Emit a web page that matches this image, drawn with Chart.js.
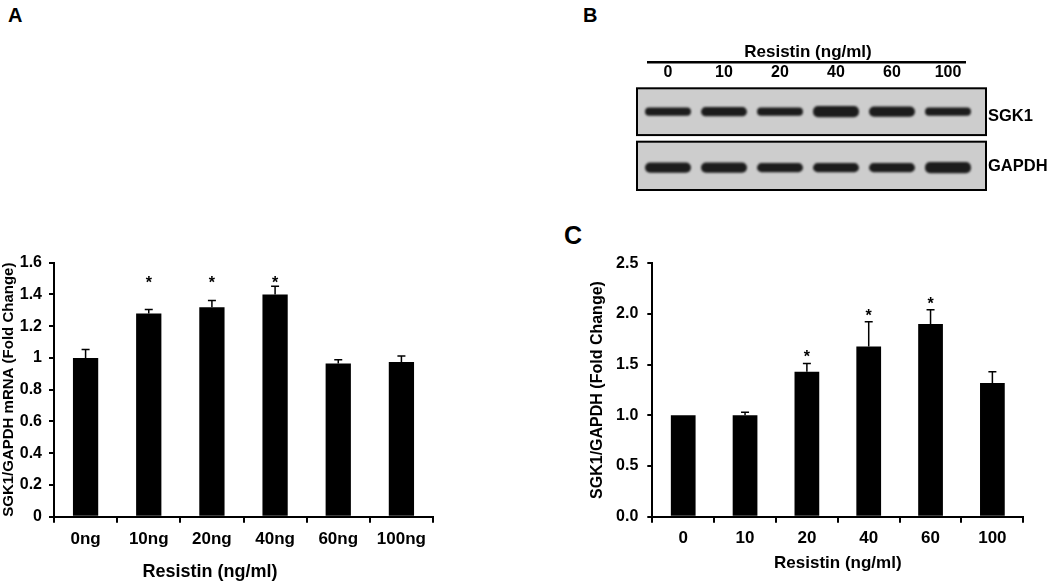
<!DOCTYPE html>
<html>
<head>
<meta charset="utf-8">
<script src="https://cdn.jsdelivr.net/npm/chart.js@4/dist/chart.umd.min.js"></script>
<style>
  body { margin: 0; background: #fff; width: 1050px; height: 582px; position: relative; overflow: hidden;
         font-family: "Liberation Sans", Arial, sans-serif; color: #000; }
  .box { position: absolute; }
  .txt { position: absolute; font-weight: bold; line-height: 1; white-space: nowrap; }
</style>
</head>
<body>
<div class="txt" style="left:8px;top:5px;font-size:20px">A</div>
<div class="txt" style="left:583px;top:5px;font-size:20px">B</div>
<div class="txt" style="left:564px;top:223px;font-size:25px">C</div>

<div class="box" style="left:0;top:230px;width:470px;height:352px"><canvas id="chartA"></canvas></div>
<div class="txt" style="left:110px;top:562px;width:200px;text-align:center;font-size:18px">Resistin (ng/ml)</div>

<div class="box" style="left:600px;top:0;width:450px;height:200px"><canvas id="blot"></canvas></div>

<div class="box" style="left:560px;top:230px;width:490px;height:352px"><canvas id="chartC"></canvas></div>

<script>
// panel A - qPCR
var catsA = ['0ng', '10ng', '20ng', '40ng', '60ng', '100ng'];
var meanA = [1.0, 1.28, 1.32, 1.40, 0.965, 0.975];
var errA  = [0.054, 0.025, 0.042, 0.051, 0.023, 0.038];
var sigA  = [false, true, true, true, false, false];

// panel B - blot, band thickness per lane
var lanes = ['0', '10', '20', '40', '60', '100'];
var sgk1Band  = [8, 9, 8, 11, 10, 8];
var gapdhBand = [10, 10, 9, 9, 9, 11];

// panel C - densitometry
var catsC = ['0', '10', '20', '40', '60', '100'];
var meanC = [1.0, 1.0, 1.43, 1.68, 1.90, 1.32];
var errC  = [0, 0.03, 0.082, 0.243, 0.142, 0.109];
var sigC  = [false, false, true, true, true, false];

var FONT = '"Liberation Sans", Arial, sans-serif';
Chart.defaults.font.family = FONT;
Chart.defaults.color = '#000';
Chart.defaults.animation = false;

// error bars (upper only) + significance stars
var errorBars = {
  id: 'errorBars',
  afterDatasetsDraw: function (chart, args, opts) {
    var ctx = chart.ctx, y = chart.scales.y;
    var meta = chart.getDatasetMeta(0);
    var vals = chart.data.datasets[0].data;
    ctx.save();
    ctx.strokeStyle = '#000';
    ctx.lineWidth = 1.5;
    ctx.fillStyle = '#000';
    ctx.font = 'bold 16px ' + FONT;
    ctx.textAlign = 'center';
    ctx.textBaseline = 'alphabetic';
    for (var i = 0; i < vals.length; i++) {
      var bar = meta.data[i];
      var top = y.getPixelForValue(vals[i] + opts.err[i]);
      if (opts.err[i] > 0) {
        ctx.beginPath();
        ctx.moveTo(bar.x, bar.y);
        ctx.lineTo(bar.x, top);
        ctx.moveTo(bar.x - 4, top);
        ctx.lineTo(bar.x + 4, top);
        ctx.stroke();
      }
      if (opts.sig[i]) {
        var sy = opts.starLevel != null ? y.getPixelForValue(opts.starLevel) : top - opts.starGap;
        ctx.fillText('*', bar.x, sy + 9);
      }
    }
    ctx.restore();
  }
};

function bold(size, lh) {
  return { family: FONT, size: size, weight: 'bold', lineHeight: lh || 1.2 };
}

function barChart(id, cats, vals, cfg) {
  return new Chart(document.getElementById(id), {
    type: 'bar',
    data: {
      labels: cats,
      datasets: [{
        data: vals,
        backgroundColor: '#000',
        borderColor: '#333',
        borderWidth: 0,
        barPercentage: 0.4,
        categoryPercentage: 1
      }]
    },
    options: {
      responsive: true,
      maintainAspectRatio: false,
      layout: { padding: cfg.padding },
      plugins: {
        legend: { display: false },
        tooltip: { enabled: false },
        errorBars: cfg.bars
      },
      scales: {
        x: {
          grid: { offset: true, drawOnChartArea: false, tickLength: 6, color: '#000', lineWidth: 2 },
          border: { color: '#000', width: 2 },
          ticks: { color: '#000', font: bold(cfg.xFont), padding: cfg.xPad },
          title: cfg.xTitle,
          afterFit: function (s) { s.height = cfg.xHeight; }
        },
        y: {
          min: 0, max: cfg.yMax,
          grid: { drawOnChartArea: false, tickLength: 5, color: '#000', lineWidth: 2 },
          border: { color: '#000', width: 2 },
          ticks: { stepSize: cfg.step, color: '#000', font: bold(cfg.yFont), padding: cfg.yPad, callback: cfg.fmt },
          title: cfg.yTitle,
          afterFit: function (s) { s.width = cfg.yWidth; }
        }
      }
    },
    plugins: [errorBars]
  });
}

barChart('chartA', catsA, meanA, {
  padding: { left: 0, right: 37, top: 32.7, bottom: 0 },
  bars: { err: errA, sig: sigA, starLevel: 1.5 },
  xFont: 17, xPad: 6, xHeight: 65.3,
  xTitle: { display: false },
  yMax: 1.6, step: 0.2, yFont: 16, yPad: 7, yWidth: 54,
  fmt: function (v) { return String(Math.round(v * 10) / 10); },
  yTitle: { display: true, text: 'SGK1/GAPDH mRNA (Fold Change)', color: '#000', font: bold(15), padding: { top: 0, bottom: 0 } }
});

barChart('chartC', catsC, meanC, {
  padding: { left: 0, right: 26.7, top: 33.3, bottom: 0 },
  bars: { err: errC, sig: sigC, starGap: 10 },
  xFont: 17, xPad: 5, xHeight: 65.3,
  xTitle: { display: true, text: 'Resistin (ng/ml)', color: '#000', font: bold(17, 1), padding: { top: 0, bottom: 10.5 } },
  yMax: 2.5, step: 0.5, yFont: 16, yPad: 9, yWidth: 92.3,
  fmt: function (v) { return v.toFixed(1); },
  yTitle: { display: true, text: 'SGK1/GAPDH (Fold Change)', color: '#000', font: bold(16), padding: { top: 28.4, bottom: 0 } }
});

// blot: two framed strips, bands as floating bars on a hidden 0-100 scale
var rows = [
  { name: 'SGK1',  top: 0,    bottom: 46,  mid: 23, label: 28 },
  { name: 'GAPDH', top: 52.5, bottom: 100, mid: 78, label: 77 }
];

var blotFrame = {
  id: 'blotFrame',
  beforeDatasetsDraw: function (chart) {
    var ctx = chart.ctx, a = chart.chartArea, y = chart.scales.y;
    ctx.save();
    rows.forEach(function (r) {
      var t = y.getPixelForValue(r.top), b = y.getPixelForValue(r.bottom);
      ctx.fillStyle = '#cdcdcd';
      ctx.fillRect(a.left - 3, t, a.width + 13, b - t);
      ctx.strokeStyle = '#000';
      ctx.lineWidth = 2;
      ctx.strokeRect(a.left - 3, t, a.width + 13, b - t);
    });
    ctx.restore();
    ctx.filter = 'blur(1.2px)';
  },
  afterDatasetsDraw: function (chart) {
    var ctx = chart.ctx, a = chart.chartArea, y = chart.scales.y, x = chart.scales.x;
    ctx.filter = 'none';
    ctx.save();
    ctx.fillStyle = '#000';
    ctx.font = 'bold 16.5px ' + FONT;
    ctx.textAlign = 'left';
    ctx.textBaseline = 'middle';
    rows.forEach(function (r) {
      ctx.fillText(r.name, a.right + 12, y.getPixelForValue(r.label));
    });
    // line under "Resistin (ng/ml)"
    ctx.strokeStyle = '#000';
    ctx.lineWidth = 2.5;
    ctx.beginPath();
    ctx.moveTo(a.left + 7, x.top + 62.3);
    ctx.lineTo(a.right - 10, x.top + 62.3);
    ctx.stroke();
    ctx.restore();
  }
};

function bandData(th, r) {
  return th.map(function (t) { return [r.mid - t / 2, r.mid + t / 2]; });
}

new Chart(document.getElementById('blot'), {
  type: 'bar',
  data: {
    labels: lanes,
    datasets: [
      { data: bandData(sgk1Band, rows[0]), backgroundColor: '#1c1c1c', borderRadius: 5, borderSkipped: false,
        barPercentage: 0.82, categoryPercentage: 1, grouped: false },
      { data: bandData(gapdhBand, rows[1]), backgroundColor: '#1c1c1c', borderRadius: 5, borderSkipped: false,
        barPercentage: 0.82, categoryPercentage: 1, grouped: false }
    ]
  },
  options: {
    responsive: true,
    maintainAspectRatio: false,
    layout: { padding: { left: 40, right: 74, top: 0, bottom: 10 } },
    plugins: { legend: { display: false }, tooltip: { enabled: false } },
    scales: {
      x: {
        position: 'top',
        grid: { display: false },
        border: { display: false },
        ticks: { color: '#000', font: bold(16, 1), padding: 0 },
        title: { display: true, text: 'Resistin (ng/ml)', color: '#000', font: bold(17, 1), padding: { top: 43.5, bottom: 0 } },
        afterFit: function (s) { s.height = 88.3; }
      },
      y: { display: false, min: 0, max: 100, reverse: true }
    }
  },
  plugins: [blotFrame]
});
</script>
</body>
</html>
